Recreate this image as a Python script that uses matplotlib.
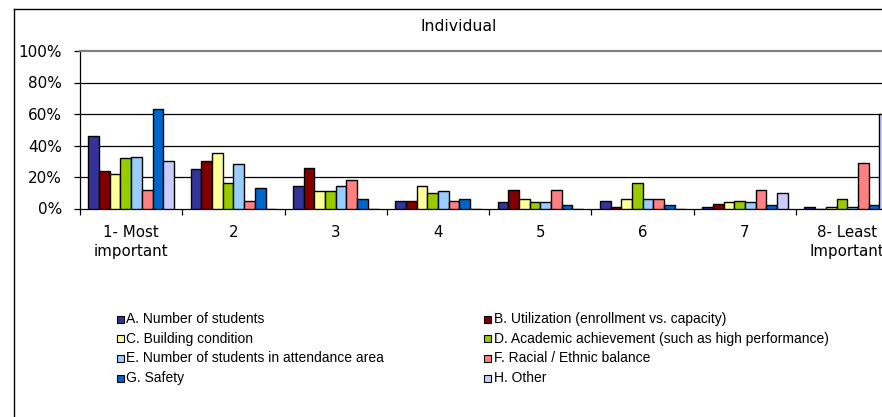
import numpy as np
import matplotlib.pyplot as plt
from matplotlib.lines import Line2D
from matplotlib.patches import Rectangle
from matplotlib.ticker import PercentFormatter

# Share of respondents ranking each factor at each importance level
ranks = ["1- Most\nimportant", "2", "3", "4", "5", "6", "7", "8- Least\nImportant"]
series_names = [
    "A. Number of students",
    "B. Utilization (enrollment vs. capacity)",
    "C. Building condition",
    "D. Academic achievement (such as high performance)",
    "E. Number of students in attendance area",
    "F. Racial / Ethnic balance",
    "G. Safety",
    "H. Other",
]
a_students = [46, 25, 14, 5, 4, 5, 1, 1]
b_utilization = [24, 30, 26, 5, 12, 1, 3, 0]
c_building = [22, 35, 11, 14, 6, 6, 4, 1]
d_academic = [32, 16, 11, 10, 4, 16, 5, 6]
e_attendance = [33, 28, 14, 11, 4, 6, 4, 1]
f_racial = [12, 5, 18, 5, 12, 6, 12, 29]
g_safety = [63, 13, 6, 6, 2, 2, 2, 2]
h_other = [30, 0, 0, 0, 0, 0, 10, 60]

series = [a_students, b_utilization, c_building, d_academic,
          e_attendance, f_racial, g_safety, h_other]
colors = ["#333399", "#800000", "#FFFF99", "#99CC00",
          "#99CCFF", "#FF8080", "#0066CC", "#CCCCFF"]

W, H = 882, 417
fig = plt.figure(figsize=(W / 100, H / 100), dpi=100)
fig.patch.set_facecolor("white")

# plot area runs past the right edge of the canvas
ax = fig.add_axes([80 / W, (H - 208.5) / H, 818.4 / W, 157.5 / H])

x = np.arange(len(ranks))
bw = 10.7 / 102.3
for i, (vals, col) in enumerate(zip(series, colors)):
    ax.bar(x + (i - 3.5) * bw, np.array(vals) / 100, width=bw, color=col,
           edgecolor="black", linewidth=1.0, zorder=3, label=series_names[i])

ax.set_xlim(-0.5, len(ranks) - 0.5)
ax.set_ylim(0, 1)
ax.set_yticks(np.arange(0, 1.01, 0.2))
ax.yaxis.set_major_formatter(PercentFormatter(1.0, decimals=0))
for yv in [0.2, 0.4, 0.6, 0.8]:
    ax.axhline(yv, color="black", linewidth=0.9, zorder=1)

ax.spines["top"].set_color("#808080")
ax.spines["top"].set_linewidth(1.6)
ax.spines["right"].set_visible(False)
ax.spines["left"].set_color("black")
ax.spines["bottom"].set_color("black")
ax.spines["left"].set_linewidth(0.9)
ax.spines["bottom"].set_linewidth(0.9)

ax.set_xticks(np.arange(-0.5, len(ranks), 1.0))
ax.set_xticklabels([])
ax.set_xticks(x, minor=True)
ax.set_xticklabels(ranks, minor=True, fontsize=10.8, linespacing=1.3)
ax.tick_params(axis="x", which="major", length=4, direction="out", width=0.9)
ax.tick_params(axis="x", which="minor", length=0, pad=12)
ax.tick_params(axis="y", length=4, direction="out", width=0.9, pad=9,
               labelsize=11)

fig.text(459 / W, 1 - 26.5 / H, "Individual", ha="center", va="center",
         fontsize=11.3)

# chart frame
fig.add_artist(Line2D([14 / W, 14 / W], [0, 1 - 8.5 / H],
                      transform=fig.transFigure, color="black", linewidth=1))
fig.add_artist(Line2D([14 / W, 1], [1 - 8.5 / H, 1 - 8.5 / H],
                      transform=fig.transFigure, color="black", linewidth=1))

# legend in two columns, filled row by row
rows_y = [319, 338.5, 358, 378]
cols_x = [117, 484]
for i, (name, col) in enumerate(zip(series_names, colors)):
    cx = cols_x[i % 2]
    cy = rows_y[i // 2]
    fig.add_artist(Rectangle((cx / W, 1 - (cy + 3.5) / H), 6.5 / W, 7 / H,
                             transform=fig.transFigure, facecolor=col,
                             edgecolor="black", linewidth=0.8))
    fig.text((cx + 9.5) / W, 1 - cy / H, name, ha="left", va="center",
             fontsize=10, family="Liberation Sans")

fig.savefig("out.png", dpi=100)
